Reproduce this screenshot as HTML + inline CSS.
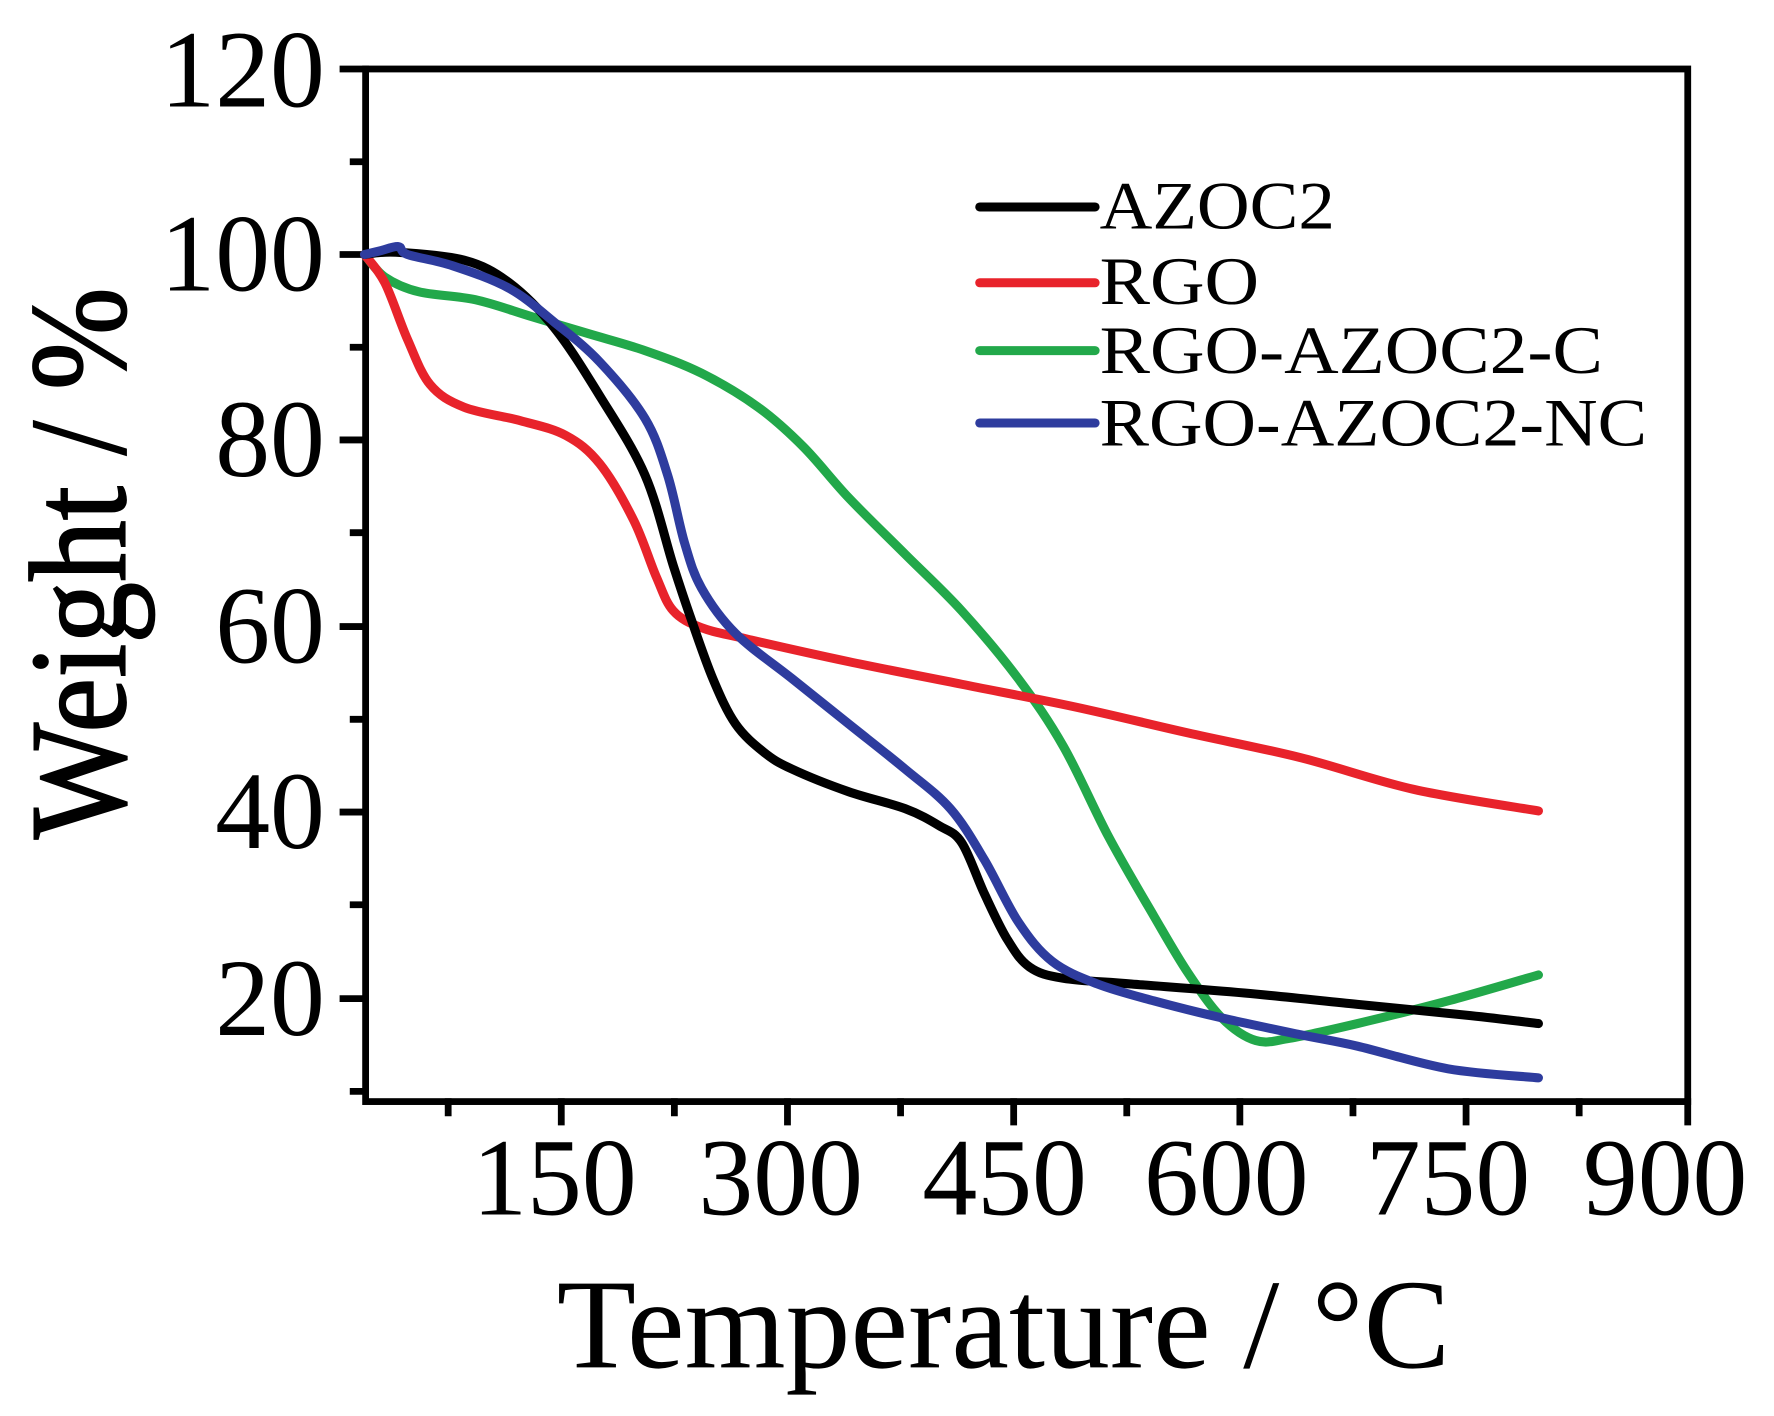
<!DOCTYPE html>
<html><head><meta charset="utf-8"><style>
html,body{margin:0;padding:0;background:#fff;}
svg{display:block;}
text{font-family:"Liberation Serif",serif;fill:#000;}
</style></head><body>
<svg id="s" width="1774" height="1416" viewBox="0 0 1568 1252" xmlns="http://www.w3.org/2000/svg">
<g stroke="#000" stroke-width="6" fill="none" stroke-linecap="square">
<rect x="323" y="61" width="1169" height="913"/>
<path d="M303 61H323M303 225H323M303 389H323M303 554H323M303 718H323M303 883H323"/>
<path d="M312 143H323M312 307H323M312 471H323M312 636H323M312 800H323M312 965H323"/>
<path d="M496 974V992M696 974V992M896 974V992M1096 974V992M1296 974V992M1492 974V992"/>
<path d="M396 974V984M596 974V984M796 974V984M996 974V984M1196 974V984M1396 974V984"/>
</g>
<g font-size="97" text-anchor="end">
<text x="287" y="94">120</text>
<text x="287" y="257">100</text>
<text x="287" y="421">80</text>
<text x="287" y="586">60</text>
<text x="287" y="750">40</text>
<text x="287" y="915">20</text>
</g>
<g font-size="97" text-anchor="middle">
<text x="490" y="1074">150</text>
<text x="690" y="1074">300</text>
<text x="888" y="1074">450</text>
<text x="1084" y="1074">600</text>
<text x="1280" y="1074">750</text>
<text x="1472" y="1074">900</text>
</g>
<text x="492" y="1209" font-size="113" textLength="790" lengthAdjust="spacingAndGlyphs">Temperature / °C</text>
<text transform="translate(110,742) rotate(-90)" font-size="122" stroke="#000" stroke-width="1.5" textLength="488" lengthAdjust="spacingAndGlyphs">Weight / %</text>
<g stroke-width="8" stroke-linecap="round">
<line x1="866" y1="183" x2="968" y2="183" stroke="#000"/>
<line x1="866" y1="250" x2="968" y2="250" stroke="#e8232b"/>
<line x1="866" y1="310" x2="968" y2="310" stroke="#22a84a"/>
<line x1="866" y1="374" x2="968" y2="374" stroke="#2e3c9e"/>
</g>
<g font-size="60">
<text x="972" y="202" textLength="208" lengthAdjust="spacingAndGlyphs">AZOC2</text>
<text x="972" y="269" textLength="141" lengthAdjust="spacingAndGlyphs">RGO</text>
<text x="972" y="330" textLength="445" lengthAdjust="spacingAndGlyphs">RGO-AZOC2-C</text>
<text x="972" y="394" textLength="484" lengthAdjust="spacingAndGlyphs">RGO-AZOC2-NC</text>
</g>
<g id="curves" fill="none" stroke-width="8" stroke-linejoin="round" stroke-linecap="round">
<polyline stroke="#22a84a" points="322,225 340,245 370,258 420,265 470,280 520,295 570,310 620,330 670,360 710,395 750,440 800,490 850,540 900,600 940,660 980,740 1020,810 1050,860 1080,900 1110,920 1140,918 1200,905 1280,885 1360,862"/>
<polyline stroke="#e8232b" points="322,225 340,250 360,300 380,340 410,360 460,372 500,385 530,410 560,460 580,510 595,540 620,555 660,565 750,585 850,605 950,625 1050,648 1150,670 1250,698 1360,717"/>
<polyline stroke="#000" points="322,225 350,223 410,230 450,250 490,290 530,350 570,420 595,500 610,545 630,600 650,640 675,665 700,680 750,700 800,715 830,730 850,745 870,790 890,830 910,855 940,865 1000,870 1100,878 1200,888 1300,898 1360,905"/>
<polyline stroke="#2e3c9e" points="322,225 335,222 352,218 360,225 400,235 450,255 490,285 530,320 570,370 590,420 605,480 620,520 650,560 700,600 750,640 800,680 840,715 870,760 900,815 930,850 970,870 1020,885 1080,900 1150,915 1200,925 1280,945 1360,953"/>
</g>
</svg>
<script>
(function(){
var NS="http://www.w3.org/2000/svg";
var pls=document.querySelectorAll("#curves polyline");
for(var k=0;k<pls.length;k++){
 var pl=pls[k];
 var pts=pl.getAttribute("points").trim().split(/\s+/).map(function(s){var a=s.split(",");return [+a[0],+a[1]];});
 var d="M"+pts[0][0]+","+pts[0][1];
 for(var i=0;i<pts.length-1;i++){
  var p0=pts[i-1]||pts[i],p1=pts[i],p2=pts[i+1],p3=pts[i+2]||p2;
  var c1x=p1[0]+(p2[0]-p0[0])/6,c1y=p1[1]+(p2[1]-p0[1])/6;
  var c2x=p2[0]-(p3[0]-p1[0])/6,c2y=p2[1]-(p3[1]-p1[1])/6;
  d+=" C"+c1x+","+c1y+" "+c2x+","+c2y+" "+p2[0]+","+p2[1];
 }
 var p=document.createElementNS(NS,"path");
 p.setAttribute("d",d);p.setAttribute("stroke",pl.getAttribute("stroke"));
 pl.parentNode.replaceChild(p,pl);
}
})();
</script>
</body></html>
